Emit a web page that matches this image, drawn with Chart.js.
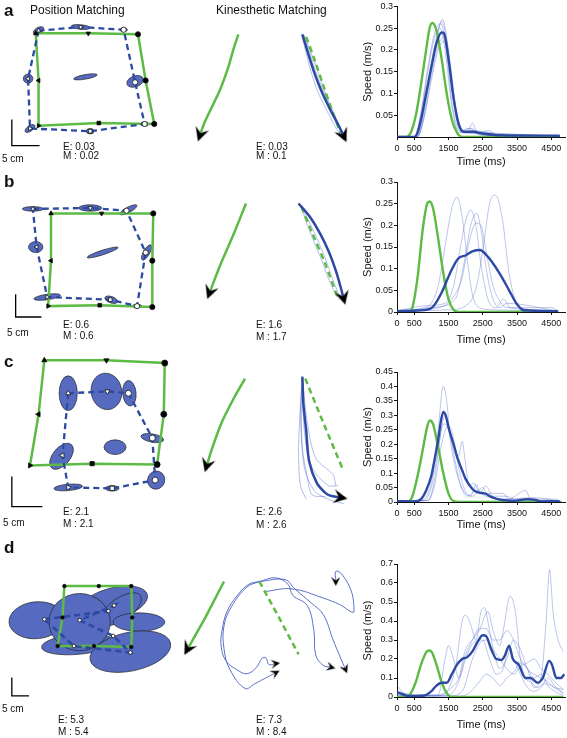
<!DOCTYPE html>
<html>
<head>
<meta charset="utf-8">
<script src="https://cdn.jsdelivr.net/npm/chart.js@4.4.1/dist/chart.umd.min.js"></script>
<style>
  html, body { margin: 0; background: #fff; }
  #fig { position: relative; width: 567px; height: 738px; overflow: hidden; font-family: "Liberation Sans", Arial, sans-serif; }
  #fig canvas { position: absolute; }
  .t { position: absolute; white-space: nowrap; color: #111; }
</style>
</head>
<body>
<div id="fig"></div>
<script>
// ---- speed profiles: [time ms, speed m/s] ----
const timeTicks = [0, 500, 1500, 2500, 3500, 4500];

const aSpeedTarget = [[0,0],[250,0],[400,0.01],[550,0.05],[700,0.12],[850,0.2],[950,0.25],[1030,0.262],[1150,0.245],[1300,0.18],[1450,0.1],[1600,0.04],[1750,0.01],[1900,0],[4750,0]];
const aSpeedMean = [[0,0],[500,0],[600,0.01],[700,0.04],[850,0.1],[1000,0.16],[1150,0.215],[1300,0.24],[1370,0.238],[1500,0.18],[1650,0.09],[1800,0.03],[1950,0.012],[2200,0.012],[2500,0.008],[3000,0.004],[4750,0.003]];
const aSpeedTrials = [
  [[0,0],[550,0],[700,0.03],[900,0.12],[1100,0.21],[1330,0.27],[1500,0.2],[1700,0.06],[1900,0.01],[2050,0.01],[2200,0.032],[2350,0.01],[2700,0.015],[2900,0.002],[4700,0.002]],
  [[0,0],[600,0],[750,0.04],[950,0.13],[1150,0.22],[1300,0.265],[1450,0.22],[1650,0.08],[1850,0.015],[2100,0.02],[2400,0.005],[4700,0.002]],
  [[0,0],[520,0],[700,0.05],[900,0.15],[1100,0.23],[1250,0.25],[1400,0.2],[1600,0.07],[1800,0.01],[2200,0.015],[2700,0.01],[4700,0.003]],
  [[0,0],[600,0],[800,0.05],[1000,0.14],[1200,0.21],[1400,0.23],[1550,0.17],[1750,0.05],[1950,0.01],[2300,0.008],[4700,0.002]],
  [[0,0],[580,0],[780,0.04],[1000,0.13],[1200,0.2],[1350,0.22],[1500,0.18],[1700,0.06],[1900,0.012],[2600,0.01],[3000,0.003],[4700,0.002]],
  [[0,0],[500,0],[680,0.05],[900,0.16],[1100,0.24],[1280,0.26],[1420,0.21],[1620,0.07],[1850,0.012],[2150,0.02],[2500,0.004],[4700,0.002]]
];

const bSpeedTarget = [[0,0],[350,0],[450,0.01],[600,0.08],[750,0.19],[880,0.25],[950,0.255],[1050,0.24],[1200,0.17],[1350,0.09],[1500,0.03],[1650,0.005],[1800,0],[4700,0]];
const bSpeedMean = [[0,0.002],[500,0.003],[900,0.006],[1050,0.012],[1310,0.046],[1520,0.085],[1780,0.123],[2010,0.131],[2200,0.14],[2420,0.143],[2600,0.132],[2740,0.119],[3000,0.088],[3270,0.05],[3490,0.019],[3700,0.004],[4700,0.002]];
const bSpeedTrials = [
  [[0,0.003],[800,0.01],[1000,0.02],[1200,0.06],[1400,0.15],[1600,0.24],[1750,0.265],[1900,0.22],[2050,0.12],[2200,0.04],[2400,0.01],[2800,0.005],[4700,0.003]],
  [[0,0.003],[900,0.015],[1400,0.02],[1650,0.06],[1850,0.15],[2000,0.21],[2150,0.235],[2300,0.2],[2450,0.11],[2650,0.03],[2900,0.01],[3100,0.03],[3300,0.01],[4700,0.003]],
  [[0,0.002],[1000,0.01],[1700,0.03],[1950,0.11],[2150,0.2],[2320,0.228],[2450,0.19],[2600,0.1],[2800,0.03],[3000,0.01],[3200,0.02],[4700,0.002]],
  [[0,0.002],[1500,0.005],[2100,0.02],[2350,0.07],[2550,0.17],[2700,0.25],[2850,0.27],[2950,0.26],[3100,0.2],[3250,0.1],[3400,0.04],[3600,0.01],[4700,0.002]],
  [[0,0.002],[1200,0.01],[1600,0.03],[1900,0.08],[2100,0.16],[2300,0.205],[2450,0.2],[2600,0.14],[2800,0.06],[3000,0.025],[3200,0.01],[4500,0.01],[4700,0.003]]
];

const cSpeedTarget = [[0,0],[300,0],[450,0.02],[600,0.09],[750,0.18],[880,0.26],[960,0.282],[1050,0.27],[1200,0.19],[1350,0.1],[1500,0.03],[1650,0.003],[1800,0],[4800,0]];
const cSpeedMean = [[0,0.003],[500,0.002],[700,0.01],[850,0.04],[1000,0.09],[1100,0.15],[1200,0.215],[1280,0.28],[1350,0.312],[1420,0.3],[1520,0.25],[1650,0.2],[1750,0.157],[1900,0.11],[2000,0.08],[2200,0.045],[2350,0.033],[2550,0.03],[2750,0.018],[3000,0.008],[3400,0.004],[3800,0.01],[4000,0.008],[4200,0.002],[4750,0.003]];
const cSpeedTrials = [
  [[0,0.005],[700,0.005],[900,0.03],[1050,0.1],[1200,0.25],[1350,0.4],[1450,0.35],[1550,0.22],[1700,0.12],[1850,0.06],[2000,0.03],[2200,0.02],[2500,0.05],[2650,0.02],[3000,0.01],[4700,0.005]],
  [[0,0.002],[800,0.005],[1000,0.05],[1200,0.18],[1350,0.27],[1500,0.26],[1650,0.2],[1800,0.16],[1900,0.21],[1980,0.15],[2100,0.06],[2250,0.065],[2400,0.03],[2600,0.055],[2800,0.02],[3200,0.02],[3500,0.005],[4700,0.005]],
  [[0,0.002],[900,0.005],[1100,0.06],[1300,0.2],[1500,0.265],[1650,0.22],[1800,0.12],[1950,0.05],[2150,0.02],[2300,0.06],[2450,0.03],[3100,0.03],[3250,0.01],[3750,0.04],[3900,0.01],[4700,0.01]],
  [[0,0.005],[900,0.005],[1100,0.08],[1250,0.22],[1400,0.3],[1550,0.23],[1700,0.14],[1850,0.06],[2050,0.02],[2300,0.04],[2600,0.02],[3100,0.01],[4000,0.015],[4700,0.003]]
];

const dSpeedTarget = [[0,0],[280,0],[400,0.02],[550,0.08],[700,0.17],[850,0.235],[930,0.245],[1020,0.235],[1150,0.17],[1300,0.08],[1450,0.02],[1580,0],[4850,0]];
const dSpeedMean = [[0,0.025],[150,0.015],[300,0.005],[800,0.008],[1000,0.03],[1150,0.06],[1300,0.075],[1450,0.075],[1600,0.12],[1750,0.17],[1900,0.2],[2050,0.21],[2200,0.24],[2350,0.29],[2500,0.325],[2600,0.32],[2750,0.25],[2900,0.2],[3050,0.195],[3150,0.22],[3270,0.27],[3380,0.2],[3550,0.17],[3750,0.1],[3900,0.1],[4100,0.075],[4250,0.1],[4440,0.19],[4520,0.17],[4650,0.1],[4780,0.1],[4880,0.12]];
const dSpeedTrials = [
  [[0,0.02],[800,0.005],[1300,0.01],[1700,0.15],[1900,0.4],[2000,0.43],[2150,0.38],[2300,0.3],[2450,0.45],[2550,0.47],[2700,0.35],[2850,0.22],[3000,0.15],[3200,0.2],[3400,0.3],[3600,0.25],[3800,0.15],[4000,0.12],[4200,0.1],[4400,0.08],[4600,0.05],[4850,0.04]],
  [[0,0.06],[200,0.02],[600,0.01],[1200,0.01],[1400,0.2],[1500,0.27],[1650,0.2],[1800,0.1],[2000,0.22],[2200,0.3],[2400,0.35],[2650,0.45],[2800,0.35],[3000,0.27],[3100,0.35],[3300,0.53],[3450,0.45],[3600,0.2],[3750,0.1],[3900,0.08],[4100,0.05],[4300,0.07],[4850,0.02]],
  [[0,0.03],[500,0.01],[1200,0.01],[1600,0.05],[1800,0.1],[2000,0.25],[2200,0.3],[2400,0.36],[2600,0.36],[2800,0.3],[3000,0.3],[3200,0.35],[3400,0.3],[3600,0.2],[3800,0.15],[4000,0.05],[4200,0.1],[4350,0.4],[4450,0.67],[4550,0.45],[4700,0.3],[4850,0.24]],
  [[0,0.01],[1000,0.005],[1500,0.01],[1800,0.08],[2000,0.2],[2200,0.28],[2500,0.3],[2700,0.2],[2900,0.12],[3100,0.15],[3250,0.25],[3400,0.2],[3600,0.12],[3800,0.05],[4000,0.03],[4200,0.05],[4400,0.1],[4600,0.06],[4850,0.02]],
  [[0,0.01],[1500,0.005],[1900,0.03],[2200,0.2],[2400,0.28],[2600,0.3],[2800,0.25],[3000,0.2],[3200,0.15],[3400,0.12],[3600,0.16],[3800,0.18],[4000,0.2],[4200,0.15],[4400,0.12],[4600,0.08],[4850,0.04]],
  [[0,0.005],[1800,0.005],[2100,0.02],[2400,0.08],[2600,0.12],[2800,0.1],[3000,0.06],[3200,0.1],[3400,0.13],[3600,0.18],[3800,0.15],[4000,0.1],[4200,0.12],[4400,0.06],[4600,0.03],[4850,0.01]]
];

// ---- drawings: points on the page plane, [x, y] ----
// targets in order TL, top, TR, right, BR, bottom, BL, left
const markerShapes = ['triangle', 'triangle', 'circle', 'circle', 'circle', 'rect', 'triangle', 'triangle'];
const markerTurns = [0, 180, 0, 0, 0, 0, 90, 270];

const aTarget = [[29,28],[84,28],[136,29],[144,80],[153,128],[95,127],[32,130],[32,80]];
const aReach = [[32,25],[76,21],[121,24],[133,82],[143,128],[86,136],[23,133],[21,78]];
// ellipse: [x, y, rx, ry, angle deg]
const aEllipses = [[32,25,6,3.5,-30],[76,21,10,2.5,5],[121,24,4,2,0],[133,81,9,6,-20],[143,128,4,2.5,0],[86,136,4,3,0],[23,133,6,3,-35],[21,78,5,5,0],[81,76,12.5,2.5,-10]];
const aScaleBar = [[4,123],[4,152],[33,152]];
const aKinTarget = [[241,29],[236,45],[230,67],[222,90],[213,110],[205,128],[201,140]];
const aKinMean = [[308,29],[314,50],[320,70],[328,92],[337,112],[346,130],[351,141]];
const aKinDashed = [[312,32],[321,58],[330,86],[339,113],[348,138]];
const aKinTrials = [
  [[307,29],[312,50],[317,70],[324,92],[333,112],[343,132],[350,145]],
  [[310,30],[318,52],[325,72],[332,94],[340,114],[348,132],[355,146]],
  [[309,30],[316,50],[322,70],[330,92],[339,113],[347,131],[353,144]]
];

const bTarget = [[45,209],[98,209],[152,209],[151,261],[151,312],[96,310],[42,311],[45,261]];
const bReach = [[26,204],[86,203],[124,206],[144,252],[135,311],[107,304],[41,301],[30,246]];
const bEllipses = [[26,204,11,2.5,0],[86,203,12,3.5,0],[126,205,10,3,-28],[145,252,9,3.5,-60],[135,311,5,2,0],[108,304,7,3.5,20],[41,301,14,3,-8],[29,246,7.5,6,0],[99,252,17,2.5,-18]];
const bScaleBar = [[8,298],[8,323],[35,323]];
const bKinTarget = [[249,198],[236,232],[222,266],[211,296]];
const bKinMean = [[304,198],[316,213],[327,232],[336,252],[343,272],[348,290],[351,302]];
const bKinDashed = [[307,202],[318,230],[331,262],[345,302]];
const bKinTrials = [
  [[305,199],[314,216],[323,236],[331,256],[338,276],[344,293],[349,305]],
  [[306,200],[312,218],[320,240],[328,260],[335,280],[342,296],[347,304]]
];

const cTarget = [[38,353],[103,353],[164,356],[163,412],[156,467],[88,466],[23,468],[32,412]];
const cReach = [[63,389],[104,387],[126,389],[151,438],[154,484],[109,493],[63,492],[57,457]];
const cEllipses = [[63,389,9.5,19,0],[103,387,16,20,-10],[127,389,7,14,-5],[151,438,12,4.5,10],[155,484,9,10,20],[109,493,7,3,0],[63,492,15,3.5,-5],[56,458,16,9.5,-50],[112,448,11.5,8,0]];
const cScaleBar = [[4,480],[4,513],[36,513]];
const cKinTarget = [[248,373],[236,395],[224,420],[214,448],[208,468]];
const cKinMean = [[308,371],[309,400],[312,430],[315,463],[323,487],[332,498],[337,501],[348,503]];
const cKinDashed = [[311,373],[331,424],[351,474]];
const cKinTrials = [
  [[308,371],[305,420],[304,460],[306,490],[312,505]],
  [[308,371],[310,430],[318,470],[335,490],[345,490]],
  [[308,371],[313,420],[322,460],[340,478],[343,490]],
  [[308,371],[307,425],[310,470],[320,495],[335,505],[352,510]],
  [[308,371],[306,410],[308,450],[313,480],[318,500],[332,502]]
];

const dTarget = [[59,582],[95,582],[129,582],[130,616],[129,648],[90,647],[52,647],[57,616]];
const dReachPath = [[38,618],[105,609],[111,603],[75,619],[110,636],[128,654],[69,647],[38,618]];
const dReach = [[38,618],[75,619],[105,609],[111,603],[110,636],[128,654],[69,647]];
const dEllipses = [[30,619,29,20,-5],[73,645,38,11,-5],[110,601,37,17,-15],[118,607,25,12,-35],[137,621,27,10,0],[75,621,32,31,0],[128,653,43,21,-12]];
const dScaleBar = [[4,681],[4,701],[22,701]];
const dKinTarget = [[226,577],[206,617],[188,650]];
const dKinDashed = [[263,577],[284,617],[304,656]];
const dKinTrials = [
  [[263,577],[252,580],[240,592],[229,610],[224,630],[223,647],[228,663],[240,673],[250,677],[260,670],[266,660],[270,660],[273,667],[280,666]],
  [[263,577],[250,583],[234,604],[226,625],[226,650],[232,672],[248,693],[258,688],[267,683],[280,676]],
  [[263,577],[280,573],[293,580],[298,592],[313,603],[320,630],[322,657],[330,668],[338,670]],
  [[263,577],[290,575],[300,585],[317,600],[330,613],[340,640],[348,660],[353,672]],
  [[268,588],[297,585],[330,595],[347,602],[362,610],[360,590],[350,570],[343,566],[343,577]]
];

// ---- setup ----
Chart.defaults.font.family = '"Liberation Sans", Arial, sans-serif';
Chart.defaults.color = '#111';

const GREEN = '#5cbb45';
const BLUE = '#2c4aa3';
const THIN = 'rgba(70,95,200,0.45)';
const FILL = '#566bbf';
const fig = document.getElementById('fig');

function pts(arr) { return arr.map(([x, y]) => ({ x, y })); }
function closed(arr) { return arr.concat([arr[0]]); }

function addCanvas(left, top, w, h) {
    const c = document.createElement('canvas');
    c.width = w; c.height = h;
    c.style.left = left + 'px'; c.style.top = top + 'px';
    c.style.width = w + 'px'; c.style.height = h + 'px';
    fig.appendChild(c);
    return c;
}

function addText(txt, left, cy, size, weight) {
    const d = document.createElement('div');
    d.className = 't';
    d.textContent = txt;
    d.style.left = left + 'px';
    d.style.top = (cy - size / 2) + 'px';
    d.style.fontSize = size + 'px';
    d.style.lineHeight = size + 'px';
    if (weight) d.style.fontWeight = weight;
    fig.appendChild(d);
}

// arrowhead sprite pointing up, rotated per point
function makeArrow(size) {
    const c = document.createElement('canvas');
    c.width = size; c.height = size;
    const g = c.getContext('2d');
    g.fillStyle = '#000';
    g.beginPath();
    g.moveTo(size / 2, 0);
    g.lineTo(size, size);
    g.lineTo(size / 2, size * 0.62);
    g.lineTo(0, size);
    g.closePath();
    g.fill();
    return c;
}

// ellipses drawn through the chart scales
const ellipsePlugin = {
    id: 'ellipses',
    beforeDatasetsDraw(chart, args, opts) {
        const { ctx } = chart;
        const xs = chart.scales.x, ys = chart.scales.y;
        ctx.save();
        (opts.list || []).forEach(([ex, ey, rx, ry, rot]) => {
            const cx = xs.getPixelForValue(ex), cy = ys.getPixelForValue(ey);
            const rxp = Math.abs(xs.getPixelForValue(ex + rx) - cx);
            const ryp = Math.abs(ys.getPixelForValue(ey + ry) - cy);
            ctx.beginPath();
            ctx.ellipse(cx, cy, rxp, ryp, rot * Math.PI / 180, 0, Math.PI * 2);
            ctx.fillStyle = opts.fill;
            ctx.fill();
            ctx.lineWidth = opts.lineWidth;
            ctx.strokeStyle = opts.stroke;
            ctx.stroke();
        });
        ctx.restore();
    }
};

function line(data, color, width, dash, tension) {
    return {
        data: pts(data), showLine: true, borderColor: color, borderWidth: width,
        borderDash: dash || [], pointRadius: 0, tension: tension || 0, clip: false
    };
}

function markers(data, shapes, turns, fill, radius) {
    return {
        data: pts(data), showLine: false, pointStyle: shapes, rotation: turns,
        pointRadius: radius, backgroundColor: fill, borderColor: '#111', borderWidth: 0.8, clip: false
    };
}

function arrow(path, size) {
    const a = path[path.length - 2], b = path[path.length - 1];
    const turn = Math.atan2(b[0] - a[0], -(b[1] - a[1])) * 180 / Math.PI;
    return { data: pts([b]), showLine: false, pointStyle: makeArrow(size), rotation: turn, pointRadius: size / 2, clip: false };
}

function drawPanel(top, height, datasets, ellipses) {
    const c = addCanvas(0, top, 362, height);
    new Chart(c, {
        type: 'scatter',
        data: { datasets },
        options: {
            responsive: false, animation: false, events: [],
            layout: { padding: 0 },
            scales: {
                x: { display: false, min: 0, max: 362 },
                y: { display: false, min: top, max: top + height, reverse: true }
            },
            plugins: {
                legend: { display: false }, tooltip: { enabled: false },
                ellipses: { list: ellipses, fill: FILL, stroke: '#222', lineWidth: 0.7 }
            }
        },
        plugins: [ellipsePlugin]
    });
}

function positionSets(target, reach, scaleBar, r) {
    return [
        markers(reach, markerShapes, markerTurns, '#fff', r),
        markers(target, markerShapes, markerTurns, '#000', r),
        line(closed(reach), BLUE, 2.3, [6, 4]),
        line(closed(target), GREEN, 2.5),
        line(scaleBar, '#000', 1.3)
    ];
}

function kinSets(target, mean, dashed, trials) {
    return [
        arrow(target, 14),
        arrow(mean, 14),
        line(target, GREEN, 2.5, null, 0.3),
        line(mean, BLUE, 2.5, null, 0.3),
        line(dashed, GREEN, 2.5, [6, 4], 0.3),
        ...trials.map(t => line(t, 'rgba(80,105,205,0.55)', 0.8, null, 0.3))
    ];
}

function speedPanel(top, height, padTop, axisH, yMax, yTicks, green, mean, trials) {
    const c = addCanvas(361, top, 206, height);
    const datasets = [
        { data: pts(mean), borderColor: BLUE, borderWidth: 2.4 },
        { data: pts(green), borderColor: GREEN, borderWidth: 2.4 },
        ...trials.map(t => ({ data: pts(t), borderColor: THIN, borderWidth: 0.8 }))
    ].map(d => Object.assign({ showLine: true, pointRadius: 0, cubicInterpolationMode: 'monotone' }, d));
    const axis = { grid: { drawOnChartArea: false, tickLength: 3, color: '#111' }, border: { color: '#111', width: 1 } };
    new Chart(c, {
        type: 'scatter',
        data: { datasets },
        options: {
            responsive: false, animation: false, events: [],
            layout: { padding: { top: padTop, right: 2, left: 0, bottom: 0 } },
            scales: {
                x: Object.assign({
                    min: 0, max: 4900,
                    afterBuildTicks: s => { s.ticks = timeTicks.map(v => ({ value: v })); },
                    afterFit: s => { s.height = axisH; },
                    ticks: { font: { size: 9 }, padding: 3, maxRotation: 0, autoSkip: false, callback: v => String(v) },
                    title: { display: true, text: 'Time (ms)', font: { size: 11 }, padding: 0 }
                }, axis),
                y: Object.assign({
                    min: 0, max: yMax,
                    afterBuildTicks: s => { s.ticks = yTicks.map(v => ({ value: v })); },
                    afterFit: s => { s.width = 36; },
                    ticks: { font: { size: 9 }, padding: 1, callback: v => v === 0 ? '0' : String(+v.toFixed(2)) },
                    title: { display: true, text: 'Speed (m/s)', font: { size: 11 }, padding: 0 }
                }, axis)
            },
            plugins: { legend: { display: false }, tooltip: { enabled: false } }
        }
    });
}

// ---- rows ----
drawPanel(0, 170, [...positionSets(aTarget, aReach, aScaleBar, 2.6), ...kinSets(aKinTarget, aKinMean, aKinDashed, aKinTrials)], aEllipses);
drawPanel(170, 175, [...positionSets(bTarget, bReach, bScaleBar, 2.6), ...kinSets(bKinTarget, bKinMean, bKinDashed, bKinTrials)], bEllipses);
drawPanel(345, 187, [...positionSets(cTarget, cReach, cScaleBar, 3), ...kinSets(cKinTarget, cKinMean, cKinDashed, cKinTrials)], cEllipses);
drawPanel(532, 206, [
    markers(dReach, 'circle', 0, '#fff', 1.8),
    markers(dTarget, 'circle', 0, '#000', 1.8),
    line(dReachPath, BLUE, 2.6, [6, 4]),
    line(closed(dTarget), GREEN, 2.5),
    line(dScaleBar, '#000', 1.3),
    arrow(dKinTarget, 14),
    ...dKinTrials.map(t => arrow(t, 9)),
    line(dKinTarget, GREEN, 2.5),
    line(dKinDashed, GREEN, 2.5, [6, 4]),
    ...dKinTrials.map(t => line(t, '#4a62c4', 0.9, null, 0.4))
], dEllipses);

speedPanel(0, 169, 5, 32, 0.3, [0.05, 0.1, 0.15, 0.2, 0.25, 0.3], aSpeedTarget, aSpeedMean, aSpeedTrials);
speedPanel(172, 175, 10, 35, 0.3, [0, 0.05, 0.1, 0.15, 0.2, 0.25, 0.3], bSpeedTarget, bSpeedMean, bSpeedTrials);
speedPanel(362, 170, 10, 30, 0.45, [0, 0.05, 0.1, 0.15, 0.2, 0.25, 0.3, 0.35, 0.4, 0.45], cSpeedTarget, cSpeedMean, cSpeedTrials);
speedPanel(554, 178, 10, 35, 0.7, [0, 0.1, 0.2, 0.3, 0.4, 0.5, 0.6, 0.7], dSpeedTarget, dSpeedMean, dSpeedTrials);

// ---- text ----
addText('a', 4, 10, 17, 'bold');
addText('Position Matching', 30, 10, 12);
addText('Kinesthetic Matching', 216, 10, 12);
addText('5 cm', 2, 159, 10);
addText('E: 0.03', 63, 147, 10);
addText('M : 0.02', 63, 156, 10);
addText('E: 0.03', 256, 147, 10);
addText('M : 0.1', 256, 156, 10);

addText('b', 4, 181, 17, 'bold');
addText('5 cm', 7, 333, 10);
addText('E: 0.6', 63, 325, 10);
addText('M : 0.6', 63, 336, 10);
addText('E: 1.6', 256, 325, 10);
addText('M : 1.7', 256, 337, 10);

addText('c', 4, 361, 17, 'bold');
addText('5 cm', 3, 523, 10);
addText('E: 2.1', 63, 512, 10);
addText('M : 2.1', 63, 524, 10);
addText('E: 2.6', 256, 512, 10);
addText('M : 2.6', 256, 525, 10);

addText('d', 4, 547, 17, 'bold');
addText('5 cm', 2, 709, 10);
addText('E: 5.3', 58, 720, 10);
addText('M : 5.4', 58, 732, 10);
addText('E: 7.3', 256, 720, 10);
addText('M : 8.4', 256, 732, 10);
</script>
</body>
</html>
